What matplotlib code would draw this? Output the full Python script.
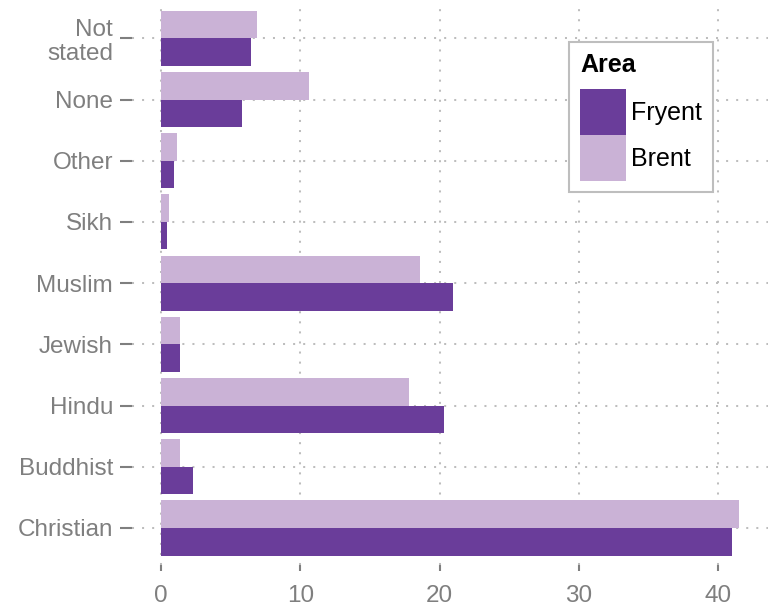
import matplotlib
matplotlib.use('Agg')
import matplotlib.pyplot as plt
from matplotlib.patches import Patch
import numpy as np

# religion share (%) by area, bottom to top as drawn
categories = ['Christian', 'Buddhist', 'Hindu', 'Jewish', 'Muslim',
              'Sikh', 'Other', 'None', 'Not\nstated']
fryent = [41.0, 2.3, 20.3, 1.35, 21.0, 0.45, 0.95, 5.8, 6.5]
brent = [41.5, 1.4, 17.8, 1.4, 18.6, 0.55, 1.15, 10.6, 6.9]
area_names = ['Fryent', 'Brent']
area_colors = ['#6a3d9a', '#cab2d6']
x_ticks = [0, 10, 20, 30, 40]

plt.rcParams['font.family'] = ['Liberation Sans', 'DejaVu Sans']

fig = plt.figure(figsize=(7.73, 6.06), dpi=100)
ax = fig.add_axes([132 / 773, 41.3 / 606, 636 / 773, 563.1 / 606])

y = np.arange(len(categories))
h = 0.45
ax.barh(y - h / 2, fryent, height=h, color=area_colors[0], zorder=3)
ax.barh(y + h / 2, brent, height=h, color=area_colors[1], zorder=3)

ax.set_xlim(-2.075, 43.575)
ax.set_ylim(-0.6, len(categories) - 0.4)
ax.set_xticks(x_ticks)
ax.set_yticks(y)
ax.set_yticklabels(categories, multialignment='right', linespacing=1.1)

grid_kw = dict(color='#bdbdbd', lw=1.45, linestyle=(0, (1, 4)), zorder=1)
ax.grid(True, axis='both', **grid_kw)
ax.set_axisbelow(True)

for s in ax.spines.values():
    s.set_visible(False)

ax.tick_params(axis='y', length=8.6, width=1.5, color='#7f7f7f', pad=5,
               labelsize=17.5, labelcolor='#7f7f7f')
ax.tick_params(axis='x', length=4.3, width=1.5, color='#7f7f7f', pad=10,
               labelsize=17.5, labelcolor='#7f7f7f')

handles = [Patch(facecolor=c, edgecolor='none') for c in area_colors]
leg = fig.legend(handles, area_names, title='Area', loc='upper left',
                 bbox_to_anchor=(569 / 773, 1 - 41.7 / 606),
                 borderaxespad=0, fontsize=18, title_fontsize=18,
                 handlelength=1.84, handleheight=2.45, labelspacing=0,
                 handletextpad=0.18, borderpad=0.45, fancybox=False,
                 framealpha=1, edgecolor='#bebebe', alignment='left')
leg.get_frame().set_linewidth(1.5)
leg.get_title().set_fontweight('bold')
leg._legend_box.sep = 8.9  # small extra gap under the title

fig.savefig('out.png', dpi=100, facecolor='white')
